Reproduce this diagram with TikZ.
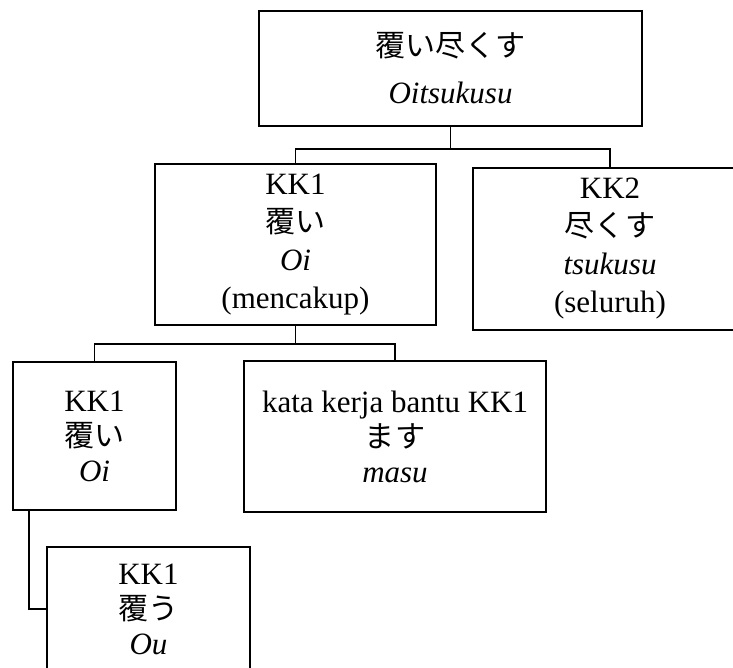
\documentclass[tikz,border=0pt]{standalone}
\usepackage{fontspec}
\setmainfont{Liberation Serif}
\newfontfamily\jp[Scale=0.97]{Noto Sans CJK JP}
\usetikzlibrary{calc}
\begin{document}
\begin{tikzpicture}[x=1pt,y=-1pt,
  box/.style={draw, line width=1.9pt, inner sep=0pt, align=center,
    font=\fontsize{31}{35}\selectfont},
  link/.style={line width=1.9pt}]
\useasboundingbox (0,0) rectangle (733,668);
\clip (0,0) rectangle (733,668);
\node[box, minimum width=383pt, minimum height=115pt] (top) at (450.5,68.5)
  {{\jp 覆い尽くす}\\[12pt]\textit{Oitsukusu}};
\node[box, minimum width=281pt, minimum height=161pt] (kk1) at (295.5,244.5)
  {KK1\\[3pt]{\jp 覆い}\\[3pt]\textit{Oi}\\[3pt](mencakup)};
\node[box, minimum width=274pt, minimum height=162pt] (kk2) at (610,249)
  {KK2\\[3pt]{\jp 尽くす}\\[3pt]\textit{tsukusu}\\[3pt](seluruh)};
\node[box, minimum width=163pt, minimum height=148pt] (kk1b) at (94.5,436)
  {KK1\\{\jp 覆い}\\\textit{Oi}};
\node[box, minimum width=302pt, minimum height=151pt] (bantu) at (395,436.5)
  {kata kerja bantu KK1\\{\jp ます}\\\textit{masu}};
\node[box, minimum width=203pt, minimum height=124pt] (ou) at (148.5,609)
  {KK1\\{\jp 覆う}\\\textit{Ou}};
\draw[link] (top.south) -- ++(0,22) -| (kk1.north);
\draw[link] (top.south) -- ++(0,22) -| (kk2.north);
\draw[link] (kk1.south) -- ++(0,18) -| (kk1b.north);
\draw[link] (kk1.south) -- ++(0,18) -| (bantu.north);
\coordinate (kk1bfoot) at ($(kk1b.south west)+(17,0)$);
\draw[link] (kk1bfoot) |- (ou.west);
\end{tikzpicture}
\end{document}
